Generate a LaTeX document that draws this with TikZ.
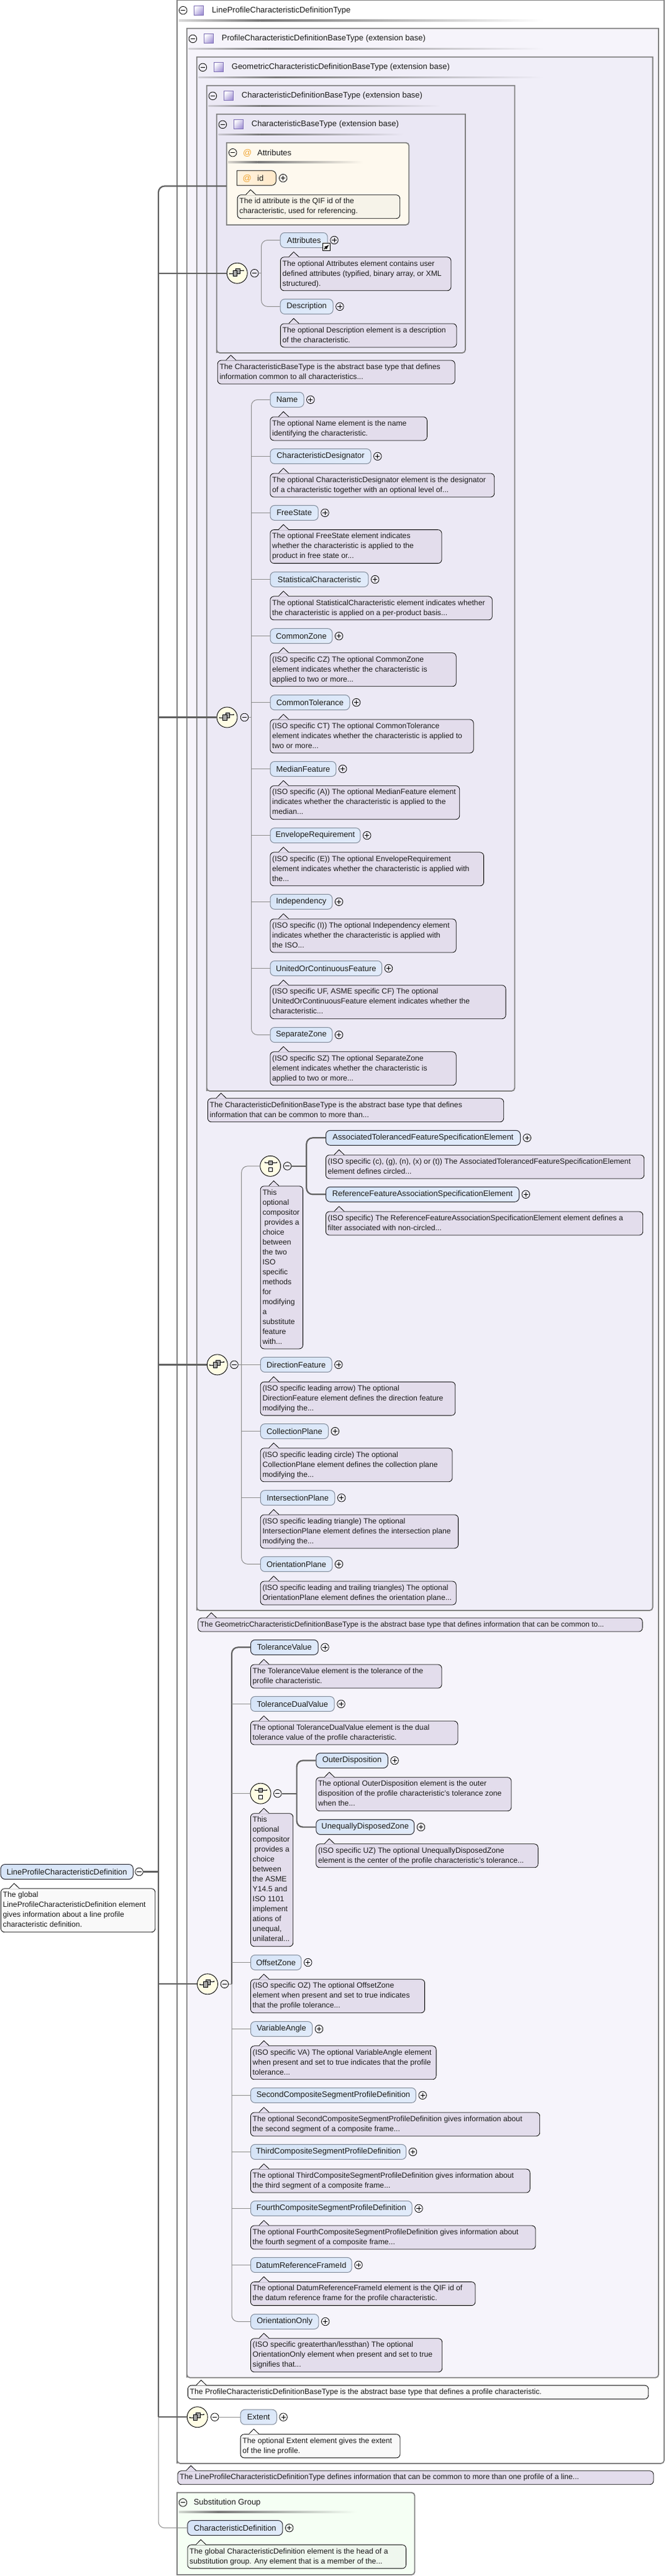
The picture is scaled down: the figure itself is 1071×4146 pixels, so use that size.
\documentclass[tikz,border=0pt]{standalone}
\usepackage{fontspec}
\setmainfont{Liberation Sans}
\definecolor{lav}{HTML}{E3DDEC}
\definecolor{pale}{HTML}{F9F9F9}
\definecolor{cream}{HTML}{F6F3E9}
\definecolor{mint}{HTML}{EFF7EE}
\definecolor{frameC}{HTML}{808080}
\definecolor{txtC}{HTML}{1A1A1A}
\definecolor{D1}{HTML}{E1EBFA}
\definecolor{D2}{HTML}{D6E4F7}
\newcommand{\bodyfont}{\fontsize{12.2}{16}\selectfont}
\newcommand{\elfont}{\fontsize{12.9}{16}\selectfont}
\tikzset{
  framebox/.style={draw=frameC,line width=1.8pt},
  frameshape/.style={inner sep=0pt,outer sep=0pt,anchor=north west},
  fratxt/.style={anchor=west,inner sep=0pt,text=txtC,font=\fontsize{13}{16}\selectfont},
  elbase/.style={rounded corners=7pt,inner xsep=0pt,inner ysep=0pt,anchor=west,minimum height=24pt,text=txtC,font=\elfont,left color=D2,right color=D1,shading angle=20},
  elopt/.style={elbase,draw={rgb,255:red,130;green,140;blue,155},line width=1pt},
  elreq/.style={elbase,draw={rgb,255:red,40;green,40;blue,50},line width=1pt},
  cmtbox/.style={draw=black,line width=.8pt,rounded corners=6pt,inner xsep=3.3pt,inner ysep=0pt,anchor=north west,text=txtC,font=\bodyfont},
  togglec/.style={circle,draw=black,line width=.8pt,minimum size=12.6pt,inner sep=0pt},
  compo/.style={circle,draw=black,line width=.9pt,fill={rgb,255:red,255;green,253;blue,228},minimum size=33pt,inner sep=0pt},
  linethin/.style={draw={rgb,255:red,140;green,140;blue,140},line width=1pt},
  linethick/.style={draw={rgb,255:red,96;green,96;blue,96},line width=2.2pt},
}
% plus toggle: name, x, y
\newcommand{\Plus}[3]{%
  \node[togglec] (#1) at (#2,#3) {};
  \draw[line width=.8pt] ({#2-3.6},#3) -- ({#2+3.6},#3) ({#2},{#3-3.6}) -- ({#2},{#3+3.6});}
\newcommand{\Minus}[3]{%
  \node[togglec] (#1) at (#2,#3) {};
  \draw[line width=.8pt] ({#2-3.6},#3) -- ({#2+3.6},#3);}
% [style]{name}{left}{right}{cy}{text}
\newcommand{\El}[6][elopt]{%
  \node[#1,minimum width={#4-#3}] (#2) at (#3,#5) {#6};
  \Plus{#2p}{#4+11.3}{#5}}
% [fill]{name}{l}{t}{r}{lines}{text}
\newcommand{\Cm}[7][lav]{%
  \pgfmathsetmacro{\cmw}{#5-#3-6.6}%
  \node[cmtbox,fill=#1,minimum height={16*#6+6}] (#2) at (#3,#4)
    {\makebox[\cmw pt][l]{\begin{tabular}[c]{@{}l@{}}#7\end{tabular}}};
  \fill[#1] ({#3+14},{#4+.6}) -- ({#3+21.7},{#4-8}) -- ({#3+30},{#4+.6}) -- cycle;
  \draw[line width=.8pt,line join=round] ({#3+14},#4) -- ({#3+21.7},{#4-8}) -- ({#3+30},#4);}
% name, x, y (sequence compositor)
\newcommand{\Seq}[3]{%
  \node[compo] (#1) at (#2,#3) {};
  \begin{scope}[shift={(#2,#3)}]
    \draw[line width=.8pt] (-12.3,.7) -- (-6.7,.7) (4.3,-4.3) -- (10,-4.3);
    \fill (-12.6,-.2) rectangle (-11.4,1.6) (9.6,-5.2) rectangle (11,-3.4);
    \filldraw[fill=gray!70,line width=.7pt] (-2.3,-7.3) rectangle (4.3,.7);
    \filldraw[fill=gray!70,line width=.7pt] (-6.7,-4) rectangle (0,5);
  \end{scope}}
\newcommand{\Cho}[3]{%
  \node[compo] (#1) at (#2,#3) {};
  \begin{scope}[shift={(#2,#3)}]
    \draw[line width=.8pt] (-9.3,-5.7) -- (10,-5.7) (-9.3,-7) -- (-9.3,-4.4) (10,-7) -- (10,-4.4);
    \filldraw[fill=gray!70,line width=.7pt] (-3.3,-8.7) rectangle (3.3,-2.2);
    \filldraw[fill=white,line width=.7pt] (-3.3,2.3) rectangle (3.3,9);
  \end{scope}}
% frame {name}{l}{t}{r}{b}{fill}
\newcommand{\Frame}[6]{%
  \node[frameshape,minimum width={#4-#2},minimum height={#5-#3}] (#1) at (#2,#3) {};
  \filldraw[framebox,fill=#6] (#1.north west) -- (#1.north east) [rounded corners=5pt] -- (#1.south east) -- (#1.south west) [sharp corners] -- (#1.south west) -- cycle;}
\newcommand{\FrameR}[6]{%
  \node[frameshape,minimum width={#4-#2},minimum height={#5-#3}] (#1) at (#2,#3) {};
  \filldraw[framebox,fill=#6,rounded corners=5pt] (#1.north) -- (#1.north east) -- (#1.south east) -- (#1.south) [sharp corners] -- (#1.south west) -- (#1.north west) -- cycle;}
% underline {x1}{x2}{y}{bg}
\newcommand{\Rule}[4]{%
  \pgfmathsetmacro{\xm}{#1+0.22*(#2-#1)}%
  \shade[left color=#4!70!gray,right color=gray!95!black] (#1,{#3-1.2}) rectangle (\xm,{#3+1.2});
  \shade[left color=gray!95!black,right color=#4] (\xm,{#3-1.2}) rectangle (#2,{#3+1.2});}
% header {name}{left}{top}{text}{rule end}{bg}
\newcommand{\Head}[6]{%
  \Minus{#1m}{#2+9.7}{#3+16.7}
  \shade[left color=white,right color={rgb,255:red,165;green,150;blue,215},shading angle=45,draw={rgb,255:red,125;green,110;blue,180},line width=.8pt] ({#2+27.3},{#3+9}) rectangle ({#2+42.7},{#3+24});
  \node[fratxt] (#1t) at ({#2+56},{#3+16.7}) {#4};
  \Rule{#2+3}{#5}{#3+33}{#6}}
\begin{document}
\begin{tikzpicture}[x=1pt,y=-1pt]
\useasboundingbox (0,0) rectangle (1071,4146);
\fill[white] (0,0) rectangle (1071,4146);
% ---------- frames
\Frame{fLine}{285}{0}{1069}{3964.8}{white}
\Head{hLine}{285}{0}{LineProfileCharacteristicDefinitionType}{875}{white}
\definecolor{F1}{HTML}{F6F4FB}\definecolor{F2}{HTML}{F0EEF8}\definecolor{F3}{HTML}{ECE9F5}\definecolor{F4}{HTML}{EAE7F4}
\Frame{fProf}{300.7}{45.7}{1060}{3826.7}{F1}
\Head{hProf}{300.7}{45.7}{ProfileCharacteristicDefinitionBaseType (extension base)}{875}{F1}
\Frame{fGeom}{316.7}{91.7}{1050.6}{2592}{F2}
\Head{hGeom}{316.7}{91.7}{GeometricCharacteristicDefinitionBaseType (extension base)}{875}{F2}
\Frame{fDef}{332.7}{137.7}{828.5}{1756}{F3}
\Head{hDef}{332.7}{137.7}{CharacteristicDefinitionBaseType (extension base)}{710}{F3}
\Frame{fBase}{348.7}{183.7}{749}{568}{F4}
\Head{hBase}{348.7}{183.7}{CharacteristicBaseType (extension base)}{650}{F4}
\definecolor{FA}{HTML}{FEF9EE}\definecolor{FS}{HTML}{F5FFF4}
\FrameR{fAttr}{364.7}{229.7}{658.3}{362}{FA}
\Minus{hAttrm}{374.7}{245.7}
\node[fratxt,text={rgb,255:red,240;green,165;blue,50},font=\fontsize{14}{16}\selectfont] (hAttra) at (391,246.5) {@};
\node[fratxt] (hAttrt) at (414,245.7) {Attributes};
\Rule{367}{584}{261}{FA}
\FrameR{fSub}{285}{4011.7}{667.5}{4144}{FS}
\Minus{hSubm}{294.5}{4027.8}
\node[fratxt] (hSubt) at (311.6,4027.8) {Substitution Group};
\Rule{288}{574}{4043}{FS}
% ---------- anchors of the connectors
\coordinate (bus) at (255,3890.2);
\coordinate (busTop) at (364.7,299.5);
\coordinate (tr1) at (420.6,439.7);
\coordinate (tr2) at (404.5,1154.5);
\coordinate (trC1) at (493.3,1876.8);
\coordinate (tr3) at (388.7,2196.4);
\coordinate (tr4) at (373,3193.3);
\coordinate (trC2) at (477.6,2886.6);
% ---------- compositors and toggles
\Seq{s1}{381.7}{439.7}\Minus{s1m}{409.7}{439.7}
\Seq{s2}{365.5}{1154.5}\Minus{s2m}{393.5}{1154.5}
\Seq{s3}{349.8}{2196.4}\Minus{s3m}{377}{2196.4}
\Seq{s4}{334}{3193.3}\Minus{s4m}{361.4}{3193.3}
\Seq{s5}{317.7}{3890.2}\Minus{s5m}{345.7}{3890.2}
\Cho{c1}{435.2}{1876.8}\Minus{c1m}{462.6}{1876.8}
\Cho{c2}{419.5}{2886.6}\Minus{c2m}{446.8}{2886.6}
% ---------- elements
\node[elreq,minimum width=213.1pt] (root) at (0.7,3012.5) {LineProfileCharacteristicDefinition};
\Minus{rootm}{224}{3012.5}
% Attributes id
\node[frameshape,minimum width=63pt,minimum height=23.6pt] (idE) at (381.3,274.7) {};
\filldraw[draw=black,line width=.8pt,left color={rgb,255:red,255;green,244;blue,224},right color={rgb,255:red,255;green,232;blue,200}] (idE.north west) [rounded corners=7pt] -- (idE.north east) -- (idE.south east) [sharp corners] -- (idE.south west) -- cycle;
\node[fratxt,text={rgb,255:red,240;green,165;blue,50},font=\fontsize{14}{16}\selectfont] (idA) at (390.5,287.5) {@};
\node[fratxt] (idT) at (414,286.7) {id};
\Plus{idEp}{455.7}{286.7}
\Cm[cream]{cId}{381.7}{313.3}{643.3}{2}{The id attribute is the QIF id of the\\characteristic, used for referencing.}
% tree 1
\El{eAttr}{450.7}{526.7}{386.5}{Attributes}
\Cm{cAttr}{451}{413.4}{725.6}{3}{The optional Attributes element contains user\\defined attributes (typified, binary array, or XML\\structured).}
\filldraw[fill=white,draw=black,line width=1pt] (519.3,391.7) rectangle (531.7,403.3);
\draw[line width=1.6pt,-latex] (522,401) -- (529.5,394);
\El{eDesc}{450.7}{535.6}{493.4}{Description}
\Cm{cDesc}{451}{520.5}{734.5}{2}{The optional Description element is a description\\of the characteristic.}
\Cm{cBase}{349.8}{579.6}{731.8}{2}{The CharacteristicBaseType is the abstract base type that defines\\information common to all characteristics...}
% tree 2
\El{eName}{434.5}{488.5}{643.3}{Name}
\Cm{cName}{434.5}{670.5}{687}{2}{The optional Name element is the name\\identifying the characteristic.}
\El{eDesg}{434.5}{596.5}{734.4}{CharacteristicDesignator}
\Cm{cDesg}{434.5}{761.6}{795.3}{2}{The optional CharacteristicDesignator element is the designator\\of a characteristic together with an optional level of...}
\El{eFree}{434.5}{511.7}{825.4}{FreeState}
\Cm{cFree}{434.5}{852.2}{710.6}{3}{The optional FreeState element indicates\\whether the characteristic is applied to the\\product in free state or...}
\El{eStat}{434.5}{592.4}{932.6}{StatisticalCharacteristic}
\Cm{cStat}{434.5}{959.4}{791.9}{2}{The optional StatisticalCharacteristic element indicates whether\\the characteristic is applied on a per-product basis...}
\El{eCZ}{434.5}{534.3}{1023.7}{CommonZone}
\Cm{cCZ}{434.5}{1050.4}{733.8}{3}{(ISO specific CZ) The optional CommonZone\\element indicates whether the characteristic is\\applied to two or more...}
\El{eCT}{434.5}{562.3}{1130.6}{CommonTolerance}
\Cm{cCT}{434.5}{1157.6}{761.8}{3}{(ISO specific CT) The optional CommonTolerance\\element indicates whether the characteristic is applied to\\two or more...}
\El{eMed}{434.5}{540.4}{1237.5}{MedianFeature}
\Cm{cMed}{434.5}{1264.3}{739.3}{3}{(ISO specific (A)) The optional MedianFeature element\\indicates whether the characteristic is applied to the\\median...}
\El{eEnv}{434.5}{579.4}{1344.6}{EnvelopeRequirement}
\Cm{cEnv}{434.5}{1371.4}{778.2}{3}{(ISO specific (E)) The optional EnvelopeRequirement\\element indicates whether the characteristic is applied with\\the...}
\El{eInd}{434.5}{534.3}{1451.3}{Independency}
\Cm{cInd}{434.5}{1478.6}{733.8}{3}{(ISO specific (I)) The optional Independency element\\indicates whether the characteristic is applied with\\the ISO...}
\El{eUni}{434.5}{614.2}{1558.5}{UnitedOrContinuousFeature}
\Cm{cUni}{434.5}{1585.3}{813.7}{3}{(ISO specific UF, ASME specific CF) The optional\\UnitedOrContinuousFeature element indicates whether the\\characteristic...}
\El{eSep}{434.5}{534.3}{1665.6}{SeparateZone}
\Cm{cSep}{434.5}{1692.4}{733.8}{3}{(ISO specific SZ) The optional SeparateZone\\element indicates whether the characteristic is\\applied to two or more...}
\Cm{cDef}{334}{1767.4}{810.3}{2}{The CharacteristicDefinitionBaseType is the abstract base type that defines\\information that can be common to more than...}
% choice 1
\El[elreq]{eAss}{524}{837}{1831.3}{AssociatedTolerancedFeatureSpecificationElement}
\Cm{cAss}{524}{1858.5}{1036.4}{2}{(ISO specific (c), (g), (n), (x) or (t)) The AssociatedTolerancedFeatureSpecificationElement\\element defines circled...}
\El[elreq]{eRef}{524}{835}{1922.3}{ReferenceFeatureAssociationSpecificationElement}
\Cm{cRef}{524}{1949.6}{1034.4}{2}{(ISO specific) The ReferenceFeatureAssociationSpecificationElement element defines a\\filter associated with non-circled...}
\Cm{cC1}{418.8}{1908.5}{487.2}{16}{This\\optional\\compositor\\\hspace{3pt}provides a\\choice\\between\\the two\\ISO\\specific\\methods\\for\\modifying\\a\\substitute\\feature\\with...}
% tree 3
\El{eDir}{418.8}{533.6}{2196.4}{DirectionFeature}
\Cm{cDir}{418.8}{2223.7}{732.4}{3}{(ISO specific leading arrow) The optional\\DirectionFeature element defines the direction feature\\modifying the...}
\El{eCol}{418.8}{528.1}{2303.6}{CollectionPlane}
\Cm{cCol}{418.8}{2330.4}{727.6}{3}{(ISO specific leading circle) The optional\\CollectionPlane element defines the collection plane\\modifying the...}
\El{eInt}{418.8}{538.4}{2410.7}{IntersectionPlane}
\Cm{cInt}{418.8}{2437.5}{737.2}{3}{(ISO specific leading triangle) The optional\\IntersectionPlane element defines the intersection plane\\modifying the...}
\El{eOri}{418.8}{534.3}{2517.4}{OrientationPlane}
\Cm{cOri}{418.8}{2544.6}{733.8}{2}{(ISO specific leading and trailing triangles) The optional\\OrientationPlane element defines the orientation plane...}
\Cm{cGeom}{318.4}{2603.6}{1033.7}{1}{\fontsize{11.95}{16}\selectfont The GeometricCharacteristicDefinitionBaseType is the abstract base type that defines information that can be common to...}
% tree 4
\El[elreq]{eTol}{403}{511.7}{2651.3}{ToleranceValue}
\Cm{cTol}{403}{2678.6}{710.6}{2}{The ToleranceValue element is the tolerance of the\\profile characteristic.}
\El{eDual}{403}{537.7}{2742.4}{ToleranceDualValue}
\Cm{cDual}{403}{2769.6}{736.5}{2}{The optional ToleranceDualValue element is the dual\\tolerance value of the profile characteristic.}
\El[elreq]{eOut}{508.3}{623.8}{2833.5}{OuterDisposition}
\Cm{cOut}{508.3}{2860.3}{822.6}{3}{The optional OuterDisposition element is the outer\\disposition of the profile characteristic's tolerance zone\\when the...}
\El[elreq]{eUne}{508.3}{666.2}{2940.6}{UnequallyDisposedZone}
\Cm{cUne}{508.3}{2967.4}{865.7}{2}{(ISO specific UZ) The optional UnequallyDisposedZone\\element is the center of the profile characteristic's tolerance...}
\Cm{cC2}{403}{2918.3}{471.4}{13}{This\\optional\\compositor\\\hspace{3pt}provides a\\choice\\between\\the ASME\\Y14.5 and\\ISO 1101\\implement\\ations of\\unequal,\\unilateral...}
\El{eOff}{403}{484.4}{3158.5}{OffsetZone}
\Cm{cOff}{403}{3185.3}{683.2}{3}{(ISO specific OZ) The optional OffsetZone\\element when present and set to true indicates\\that the profile tolerance...}
\El{eVar}{403}{502.2}{3265.6}{VariableAngle}
\Cm{cVar}{403}{3292.4}{701.7}{3}{(ISO specific VA) The optional VariableAngle element\\when present and set to true indicates that the profile\\tolerance...}
\El{eSec}{403}{668.9}{3372.3}{SecondCompositeSegmentProfileDefinition}
\Cm{cSec}{403}{3399.6}{868.4}{2}{The optional SecondCompositeSegmentProfileDefinition gives information about\\the second segment of a composite frame...}
\El{eThi}{403}{653.2}{3463.4}{ThirdCompositeSegmentProfileDefinition}
\Cm{cThi}{403}{3490.6}{852.7}{2}{The optional ThirdCompositeSegmentProfileDefinition gives information about\\the third segment of a composite frame...}
\El{eFou}{403}{662.7}{3554.4}{FourthCompositeSegmentProfileDefinition}
\Cm{cFou}{403}{3581.6}{861.6}{2}{The optional FourthCompositeSegmentProfileDefinition gives information about\\the fourth segment of a composite frame...}
\El{eDat}{403}{565.7}{3645.4}{DatumReferenceFrameId}
\Cm{cDat}{403}{3672.2}{764.6}{2}{The optional DatumReferenceFrameId element is the QIF id of\\the datum reference frame for the profile characteristic.}
\El{eOnl}{403}{512.4}{3736.5}{OrientationOnly}
\Cm{cOnl}{403}{3763.3}{711.3}{3}{(ISO specific greaterthan/lessthan) The optional\\OrientationOnly element when present and set to true\\signifies that...}
\Cm[pale]{cProf}{302}{3838.7}{1043.3}{1}{The ProfileCharacteristicDefinitionBaseType is the abstract base type that defines a profile characteristic.}
% tree 5
\El{eExt}{386.7}{444.8}{3890.2}{Extent}
\Cm[pale]{cExt}{386.7}{3917.4}{643.6}{2}{The optional Extent element gives the extent\\of the line profile.}
\Cm{cLine}{285.6}{3976.3}{1051.5}{1}{The LineProfileCharacteristicDefinitionType defines information that can be common to more than one profile of a line...}
% substitution
\El[elreq]{eCD}{301.3}{454.4}{4068.6}{CharacteristicDefinition}
\Cm[mint]{cCD}{301.5}{4095.4}{653.2}{2}{The global CharacteristicDefinition element is the head of a\\substitution group. Any element that is a member of the...}
\Cm[pale]{cRoot}{1}{3039.3}{249.4}{4}{The global\\LineProfileCharacteristicDefinition element\\gives information about a line profile\\characteristic definition.}
% ---------- connectors
\draw[linethin,rounded corners=10pt] (bus) |- (eCD.west);
\draw[linethick,rounded corners=10pt] (busTop) -| (bus);
\foreach \s in {s1,s2,s3,s4,s5} {\draw[linethick] (bus |- \s.west) -- (\s.west);}
\draw[linethick] (rootm.east) -- (bus |- rootm.east);
% tree 1
\draw[linethin] (s1m.east) -- (tr1);
\draw[linethin,rounded corners=10pt] (eAttr.west) -| (tr1) |- (eDesc.west);
% tree 2
\draw[linethin] (s2m.east) -- (tr2);
\draw[linethin,rounded corners=10pt] (eName.west) -| (tr2) |- (eSep.west);
\foreach \e in {eDesg,eFree,eStat,eCZ,eCT,eMed,eEnv,eInd,eUni} {\draw[linethin] (tr2 |- \e.west) -- (\e.west);}
% choice 1
\draw[linethick] (c1m.east) -- (trC1);
\draw[linethick,rounded corners=10pt] (eAss.west) -| (trC1) |- (eRef.west);
% tree 3
\draw[linethin] (s3m.east) -- (tr3);
\draw[linethin,rounded corners=10pt] (c1.west) -| (tr3) |- (eOri.west);
\foreach \e in {eCol,eInt,eDir} {\draw[linethin] (tr3 |- \e.west) -- (\e.west);}
% choice 2
\draw[linethick] (c2m.east) -- (trC2);
\draw[linethick,rounded corners=10pt] (eOut.west) -| (trC2) |- (eUne.west);
% tree 4
\draw[linethin] (s4m.east) -- (tr4);
\draw[linethin,rounded corners=10pt] (tr4) |- (eOnl.west);
\draw[linethick,rounded corners=10pt] (eTol.west) -| (tr4);
\foreach \e in {eDual,c2,eOff,eVar,eSec,eThi,eFou,eDat} {\draw[linethin] (tr4 |- \e.west) -- (\e.west);}
% tree 5
\draw[linethin] (s5m.east) -- (eExt.west);
\end{tikzpicture}
\end{document}
